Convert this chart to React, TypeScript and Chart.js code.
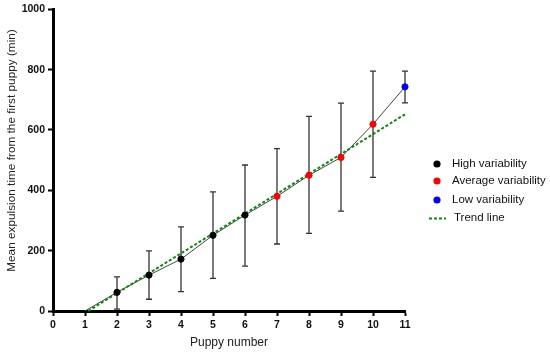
import React, { useEffect, useRef } from "react";
import { Chart, registerables } from "chart.js";

Chart.register(...registerables);

const puppyNumbers = [1, 2, 3, 4, 5, 6, 7, 8, 9, 10, 11];
const meanTimes = [0, 62, 119, 172, 251, 318, 380, 450, 509, 619, 743];
const errLower = [null, 6, 39, 64, 108, 149, 222, 257, 331, 443, 690];
const errUpper = [null, 113, 199, 279, 395, 484, 538, 645, 689, 795, 795];
const variability = ["none", "High", "High", "High", "High", "High", "Average", "Average", "Average", "Average", "Low"];
const trendX = [1.1, 11];
const trendY = [0, 652];

const groupLabels = ["High variability", "Average variability", "Low variability"];
const groupKeys = ["High", "Average", "Low"];
const groupColors = ["#000000", "#ff0000", "#0000ff"];
const trendLabel = "Trend line";
const trendColor = "#0a8a0a";
const yTitle = "Mean expulsion time from the first puppy (min)";
const xTitle = "Puppy number";

const FONT = "'Liberation Sans', Arial, sans-serif";

const errorBarPlugin = {
  id: "errorBars",
  beforeDatasetsDraw(chart: any) {
    const { ctx, scales } = chart;
    const xs = scales.x;
    const ys = scales.y;
    ctx.save();
    ctx.strokeStyle = "#333333";
    ctx.lineWidth = 1.3;
    for (let i = 0; i < puppyNumbers.length; i++) {
      const lo = errLower[i];
      const hi = errUpper[i];
      if (lo == null || hi == null) continue;
      const px = xs.getPixelForValue(puppyNumbers[i]);
      const pLo = ys.getPixelForValue(lo);
      const pHi = ys.getPixelForValue(hi);
      ctx.beginPath();
      ctx.moveTo(px, pLo);
      ctx.lineTo(px, pHi);
      ctx.moveTo(px - 3, pLo);
      ctx.lineTo(px + 3, pLo);
      ctx.moveTo(px - 3, pHi);
      ctx.lineTo(px + 3, pHi);
      ctx.stroke();
    }
    ctx.restore();
  },
};

const legendPlugin = {
  id: "customLegend",
  afterDraw(chart: any) {
    const { ctx } = chart;
    ctx.save();
    // y-axis title
    ctx.save();
    ctx.translate(12, 150.5);
    ctx.rotate(-Math.PI / 2);
    ctx.font = `11.8px ${FONT}`;
    ctx.fillStyle = "#222222";
    ctx.textAlign = "center";
    ctx.textBaseline = "middle";
    ctx.fillText(yTitle, 0, 0);
    ctx.restore();

    ctx.font = `11.5px ${FONT}`;
    ctx.textBaseline = "middle";
    ctx.fillStyle = "#111111";
    const rows = [164, 181, 200];
    for (let i = 0; i < groupLabels.length; i++) {
      ctx.beginPath();
      ctx.fillStyle = groupColors[i];
      ctx.arc(437, rows[i], 3.6, 0, Math.PI * 2);
      ctx.fill();
      ctx.fillStyle = "#111111";
      ctx.fillText(groupLabels[i], 452, rows[i]);
    }
    ctx.strokeStyle = trendColor;
    ctx.lineWidth = 2;
    ctx.setLineDash([3, 2]);
    ctx.beginPath();
    ctx.moveTo(429, 218.5);
    ctx.lineTo(446, 218.5);
    ctx.stroke();
    ctx.setLineDash([]);
    ctx.fillStyle = "#111111";
    ctx.fillText(trendLabel, 454, 218);
    ctx.restore();
  },
};

export default function App() {
  const ref = useRef<HTMLCanvasElement | null>(null);
  useEffect(() => {
    if (!ref.current) return;
    const pointsFor = (key: string) =>
      puppyNumbers
        .map((x, i) => ({ x, y: meanTimes[i], k: variability[i] }))
        .filter((p) => p.k === key)
        .map((p) => ({ x: p.x, y: p.y }));
    const datasets: any[] = groupKeys.map((key, gi) => ({
      type: "scatter",
      label: groupLabels[gi],
      data: pointsFor(key),
      backgroundColor: groupColors[gi],
      borderColor: groupColors[gi],
      pointRadius: 3.1,
      pointHoverRadius: 3.1,
      showLine: false,
      clip: false,
      order: 0,
    }));
    datasets.push({
      type: "line",
      label: "mean",
      data: puppyNumbers.map((x, i) => ({ x, y: meanTimes[i] })),
      borderColor: "#444444",
      borderWidth: 1,
      pointRadius: 0,
      fill: false,
      clip: false,
      order: 2,
    });
    datasets.push({
      type: "line",
      label: trendLabel,
      data: trendX.map((x, i) => ({ x, y: trendY[i] })),
      borderColor: trendColor,
      borderWidth: 2,
      borderDash: [3, 2],
      pointRadius: 0,
      fill: false,
      clip: false,
      order: 1,
    });
    const tickFont = { family: FONT, size: 10.5, weight: "bold" as const };
    const chart = new Chart(ref.current, {
      type: "scatter",
      data: { datasets },
      options: {
        animation: false,
        responsive: true,
        maintainAspectRatio: false,
        layout: { padding: { top: 8, right: 145, bottom: 0, left: 0 } },
        plugins: { legend: { display: false }, tooltip: { enabled: false } },
        scales: {
          x: {
            type: "linear",
            min: 0,
            max: 11,
            afterFit: (s: any) => {
              s.height = 43;
            },
            ticks: { stepSize: 1, color: "#111", font: tickFont, padding: 3, callback: (v: any) => String(v) },
            grid: { display: true, drawOnChartArea: false, tickLength: 5, tickWidth: 2, tickColor: "#000" },
            border: { display: true, color: "#000", width: 3 },
            title: {
              display: true,
              text: xTitle,
              color: "#222",
              font: { family: FONT, size: 12 },
              padding: { top: 0, bottom: 4 },
            },
          },
          y: {
            type: "linear",
            min: 0,
            max: 1000,
            afterFit: (s: any) => {
              s.width = 53;
            },
            ticks: { stepSize: 200, color: "#111", font: tickFont, padding: 3, callback: (v: any) => String(v) },
            grid: { display: true, drawOnChartArea: false, tickLength: 5, tickWidth: 2, tickColor: "#000" },
            border: { display: true, color: "#000", width: 3 },
            title: { display: false },
          },
        },
      },
      plugins: [errorBarPlugin, legendPlugin],
    });
    return () => chart.destroy();
  }, []);
  return (
    <div style={{ position: "absolute", left: 0, top: 0, width: 550, height: 354, background: "#fff" }}>
      <canvas ref={ref} />
    </div>
  );
}
